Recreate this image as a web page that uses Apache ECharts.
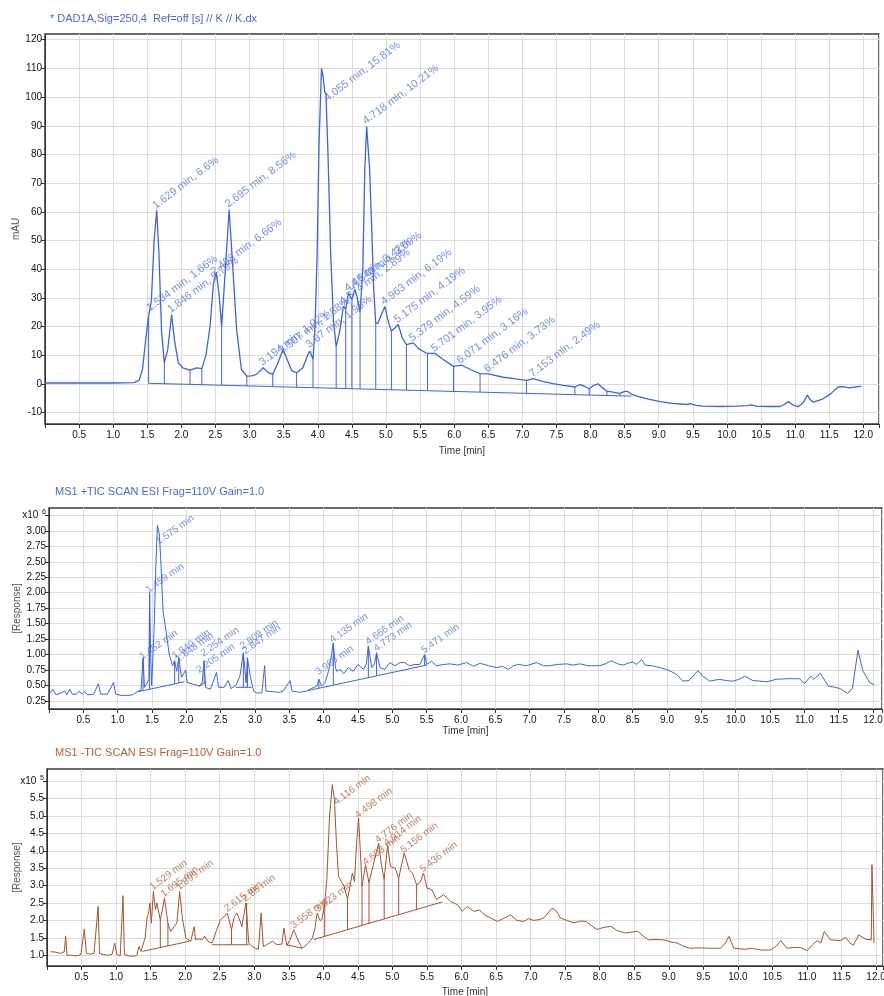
<!DOCTYPE html>
<html><head><meta charset="utf-8">
<script src="https://cdn.jsdelivr.net/npm/echarts@6/dist/echarts.min.js"></script>
<style>html,body{margin:0;padding:0;background:#fff}#c{width:884px;height:996px}</style>
</head><body><div id="c"></div>
<script>
// ---------- Panel 1: DAD1A 250 nm (mAU) ----------
const dadTrace = [
[0.00,0.3],[0.50,0.3],[1.00,0.3],[1.30,0.4],[1.38,1.2],[1.43,5],[1.47,14],[1.515,23],[1.56,29],[1.60,50],[1.638,60.5],[1.67,46],[1.71,18],[1.75,7.3],[1.80,12],[1.857,24.2],[1.90,15],[1.955,7.3],[2.02,5.6],[2.126,4.8],[2.22,5.6],[2.30,5.3],[2.36,10],[2.42,20],[2.47,35],[2.51,38.9],[2.55,32],[2.59,20],[2.64,38],[2.70,60.8],[2.74,46],[2.81,19],[2.88,5],[2.96,2.7],[3.03,2.8],[3.10,3.3],[3.20,5.6],[3.27,4.0],[3.34,3.3],[3.41,7],[3.49,12],[3.56,8],[3.62,4.5],[3.69,3.9],[3.78,5.5],[3.86,10.5],[3.886,11.4],[3.93,8.5],[3.96,20],[3.99,45],[4.02,85],[4.055,110],[4.08,107],[4.10,102],[4.12,101],[4.15,80],[4.19,45],[4.23,22],[4.27,13],[4.32,18],[4.375,27],[4.41,26],[4.45,31.7],[4.50,29.4],[4.545,32.9],[4.58,30],[4.62,24.8],[4.66,40],[4.69,75],[4.717,89.8],[4.735,90],[4.76,75],[4.79,55],[4.82,33],[4.85,21.3],[4.88,21],[4.93,24],[4.985,27],[5.03,22],[5.08,18.4],[5.13,19.5],[5.18,20.7],[5.24,16],[5.30,13.7],[5.40,14.3],[5.48,12.3],[5.60,10.6],[5.72,10.6],[5.85,8.3],[5.99,6.1],[6.11,6.5],[6.24,5.0],[6.38,3.6],[6.50,3.5],[6.72,2.3],[6.90,1.7],[7.06,1.2],[7.16,1.8],[7.30,0.9],[7.45,0.1],[7.60,-0.5],[7.77,-1.1],[7.85,-0.3],[7.92,-1.0],[7.98,-1.7],[8.05,-0.5],[8.11,0.0],[8.18,-1.5],[8.24,-2.5],[8.35,-3.0],[8.43,-3.3],[8.50,-2.6],[8.54,-2.6],[8.60,-3.6],[8.68,-4.3],[8.85,-5.3],[9.02,-6.2],[9.20,-6.8],[9.41,-7.2],[9.46,-6.9],[9.55,-7.5],[9.65,-7.8],[9.90,-7.9],[10.14,-7.8],[10.30,-7.6],[10.36,-7.3],[10.43,-7.8],[10.60,-7.9],[10.78,-7.9],[10.84,-7.2],[10.90,-6.2],[10.97,-7.4],[11.05,-7.9],[11.12,-6.5],[11.18,-3.9],[11.22,-5.5],[11.27,-6.4],[11.41,-5.2],[11.52,-3.5],[11.63,-1.1],[11.70,-1.0],[11.80,-1.4],[11.97,-0.8]
];
const dadBaselines = [[1.52,0.2,8.60,-4.3]];
const dadDrops = [
[1.52,23,0.2],[1.75,7.3,0.05],[2.126,4.8,-0.19],[2.30,5.3,-0.30],[2.59,20,-0.48],[2.96,2.7,-0.72],[3.34,3.3,-0.96],[3.69,3.9,-1.18],[3.93,8.5,-1.33],[4.27,13,-1.55],[4.41,26,-1.64],[4.50,29.4,-1.70],[4.62,24.8,-1.77],[4.85,21.3,-1.92],[5.08,18.4,-2.06],[5.30,13.7,-2.2],[5.61,10.6,-2.40],[5.99,6.1,-2.64],[6.38,3.6,-2.89],[7.06,1.2,-3.32],[7.77,-1.1,-3.77],[7.98,-1.7,-3.91],[8.24,-2.5,-4.07],[8.43,-3.3,-4.19]
];
const dadPeaks = [
[1.55,24.8,'1.534 min, 1.66%'],[1.638,60.5,'1.629 min, 6.6%'],[1.857,24.2,'1.846 min, 5.79%'],[2.49,37.5,'2.498 min, 6.66%'],[2.70,61,'2.695 min, 8.56%'],[3.20,5.8,'3.194 min, 1.02%'],[3.49,10,'3.507 min, 1.88%'],[3.886,12,'3.87 min, 1.96%'],[4.155,98,'4.055 min, 15.81%'],[4.375,27,'4.374 min, 2.89%'],[4.45,31.7,'4.46 min, 3.42%'],[4.545,33,'4.548 min, 3.09%'],[4.72,90,'4.718 min, 10.21%'],[4.985,27,'4.963 min, 6.19%'],[5.18,20.7,'5.175 min, 4.19%'],[5.40,14.3,'5.379 min, 4.59%'],[5.72,10.6,'5.701 min, 3.95%'],[6.10,6.5,'6.071 min, 3.16%'],[6.50,3.5,'6.476 min, 3.73%'],[7.16,1.8,'7.153 min, 2.49%']
];
const dadYTicks = [-10,0,10,20,30,40,50,60,70,80,90,100,110,120];

// ---------- Panel 2: MS1 +TIC (x10^6) ----------
const posTrace = [
[0.00,0.36],[0.06,0.44],[0.10,0.35],[0.16,0.37],[0.23,0.41],[0.26,0.35],[0.30,0.44],[0.34,0.36],[0.40,0.36],[0.44,0.41],[0.48,0.36],[0.52,0.40],[0.56,0.35],[0.65,0.36],[0.72,0.53],[0.75,0.36],[0.85,0.36],[0.94,0.55],[0.97,0.36],[1.05,0.34],[1.15,0.34],[1.22,0.35],[1.30,0.41],[1.34,0.42],[1.37,0.95],[1.39,0.47],[1.42,0.52],[1.455,0.6],[1.465,2.0],[1.48,1.0],[1.495,0.5],[1.53,1.4],[1.555,2.4],[1.578,3.09],[1.605,2.95],[1.625,2.6],[1.66,1.71],[1.69,1.49],[1.75,1.01],[1.80,0.82],[1.83,0.9],[1.86,0.73],[1.89,0.95],[1.93,0.63],[1.99,0.75],[2.01,0.55],[2.10,0.52],[2.20,0.49],[2.23,0.55],[2.26,0.9],[2.28,0.47],[2.35,0.44],[2.44,0.71],[2.47,0.47],[2.55,0.47],[2.61,0.58],[2.65,0.45],[2.72,0.5],[2.78,0.65],[2.83,1.03],[2.87,0.54],[2.89,0.95],[2.93,0.65],[2.98,0.41],[3.02,0.38],[3.10,0.38],[3.14,0.82],[3.16,0.41],[3.25,0.40],[3.35,0.39],[3.41,0.41],[3.51,0.58],[3.54,0.41],[3.65,0.39],[3.75,0.41],[3.82,0.45],[3.90,0.49],[3.93,0.60],[3.97,0.49],[4.02,0.55],[4.07,0.73],[4.10,0.9],[4.14,1.19],[4.17,0.8],[4.19,0.73],[4.24,0.76],[4.29,0.69],[4.36,0.79],[4.43,0.73],[4.50,0.84],[4.58,0.76],[4.62,0.85],[4.65,1.14],[4.70,0.79],[4.74,0.85],[4.77,1.03],[4.82,0.79],[4.89,0.76],[4.96,0.87],[5.04,0.82],[5.11,0.87],[5.18,0.87],[5.25,0.82],[5.33,0.84],[5.40,0.84],[5.47,1.0],[5.50,0.84],[5.57,0.89],[5.64,0.82],[5.75,0.84],[5.84,0.85],[5.95,0.83],[6.08,0.87],[6.18,0.81],[6.28,0.86],[6.40,0.82],[6.52,0.79],[6.60,0.81],[6.69,0.76],[6.76,0.82],[6.84,0.84],[6.95,0.82],[7.10,0.87],[7.20,0.82],[7.29,0.82],[7.40,0.84],[7.54,0.85],[7.63,0.83],[7.73,0.85],[7.85,0.82],[8.02,0.82],[8.10,0.85],[8.19,0.9],[8.28,0.85],[8.36,0.83],[8.43,0.86],[8.50,0.88],[8.56,0.84],[8.63,0.92],[8.68,0.83],[8.78,0.82],[8.85,0.80],[8.99,0.76],[9.07,0.72],[9.14,0.68],[9.23,0.57],[9.32,0.58],[9.45,0.74],[9.52,0.65],[9.62,0.57],[9.76,0.60],[9.86,0.58],[9.96,0.57],[10.05,0.60],[10.13,0.65],[10.25,0.58],[10.35,0.57],[10.45,0.56],[10.59,0.60],[10.75,0.61],[10.93,0.61],[11.00,0.53],[11.09,0.65],[11.14,0.6],[11.23,0.70],[11.35,0.49],[11.45,0.47],[11.52,0.45],[11.63,0.37],[11.70,0.46],[11.78,1.07],[11.85,0.74],[11.95,0.55],[12.02,0.51]
];
const posBaselines = [[1.30,0.40,1.97,0.56],[2.18,0.49,2.28,0.55],[2.72,0.47,2.95,0.47],[3.78,0.42,5.50,0.83]];
const posDrops = [
[1.37,0.95,0.42],[1.465,2.0,0.44],[1.83,0.9,0.53],[1.89,0.95,0.54],[2.26,0.9,0.54],[2.83,1.03,0.47],[2.89,0.95,0.47],[3.93,0.6,0.46],[4.14,1.19,0.51],[4.65,1.14,0.63],[4.77,1.03,0.66],[5.47,1.0,0.82]
];
const posPeaks = [
[1.37,0.90,'1.452 min'],[1.46,1.98,'1.459 min'],[1.61,2.76,'1.575 min'],[1.84,0.91,'1.840 min'],[1.89,0.86,'1.848 min'],[2.26,0.95,'2.254 min'],[2.20,0.68,'2.205 min'],[2.83,1.07,'2.809 min'],[2.87,0.99,'2.847 min'],[3.93,0.65,'3.966 min'],[4.14,1.17,'4.135 min'],[4.66,1.14,'4.666 min'],[4.78,1.03,'4.773 min'],[5.47,1.0,'5.471 min']
];
const posYTicks = [0.25,0.5,0.75,1.0,1.25,1.5,1.75,2.0,2.25,2.5,2.75,3.0,3.25];

// ---------- Panel 3: MS1 -TIC (x10^5) ----------
const negTrace = [
[0.05,1.10],[0.12,1.09],[0.19,1.05],[0.25,1.1],[0.27,1.54],[0.29,0.99],[0.35,1.0],[0.42,0.98],[0.49,1.02],[0.54,1.75],[0.57,1.06],[0.62,1.03],[0.68,1.05],[0.74,2.40],[0.76,1.05],[0.82,1.02],[0.88,1.0],[0.94,1.02],[0.98,1.35],[1.01,1.02],[1.06,0.99],[1.10,2.71],[1.12,1.02],[1.18,0.98],[1.26,0.97],[1.30,1.0],[1.33,1.25],[1.36,1.11],[1.38,1.11],[1.42,1.5],[1.45,2.11],[1.47,2.2],[1.49,2.50],[1.51,1.92],[1.54,2.83],[1.57,2.31],[1.59,2.50],[1.64,2.02],[1.67,2.3],[1.70,2.64],[1.75,1.92],[1.79,1.68],[1.84,1.82],[1.88,1.92],[1.92,2.83],[1.96,2.06],[2.01,1.49],[2.08,1.40],[2.13,1.82],[2.15,1.45],[2.21,1.47],[2.25,1.45],[2.28,1.55],[2.30,1.49],[2.34,1.38],[2.39,1.35],[2.45,1.7],[2.51,2.02],[2.56,2.1],[2.61,2.21],[2.67,1.73],[2.71,2.1],[2.75,2.21],[2.80,1.95],[2.82,1.82],[2.88,2.50],[2.92,1.35],[2.97,1.25],[3.02,1.20],[3.06,1.17],[3.10,2.21],[3.13,1.25],[3.18,1.3],[3.26,1.40],[3.33,1.30],[3.40,1.32],[3.43,1.78],[3.47,1.28],[3.52,1.45],[3.57,1.73],[3.62,1.5],[3.69,1.20],[3.76,1.3],[3.84,1.49],[3.88,1.8],[3.91,2.21],[3.95,2.0],[3.98,2.02],[4.02,2.5],[4.05,3.17],[4.09,5.0],[4.13,5.90],[4.16,5.47],[4.19,4.2],[4.22,3.26],[4.30,2.98],[4.35,2.60],[4.42,3.36],[4.45,3.12],[4.48,4.2],[4.51,4.94],[4.535,4.0],[4.56,2.98],[4.61,3.60],[4.66,3.08],[4.73,3.65],[4.80,4.22],[4.84,3.6],[4.88,3.17],[4.93,4.17],[4.97,3.55],[5.04,3.50],[5.09,3.21],[5.17,3.94],[5.24,3.46],[5.29,3.36],[5.35,3.02],[5.40,3.09],[5.45,3.36],[5.50,2.93],[5.57,2.88],[5.64,2.60],[5.74,2.74],[5.84,2.55],[5.94,2.45],[6.01,2.26],[6.08,2.40],[6.18,2.26],[6.26,2.30],[6.34,2.15],[6.42,2.07],[6.52,1.97],[6.60,2.05],[6.71,2.16],[6.80,2.0],[6.90,1.97],[6.97,2.05],[7.04,2.0],[7.12,2.02],[7.19,2.07],[7.31,2.35],[7.37,2.28],[7.43,2.07],[7.52,2.0],[7.63,1.93],[7.72,1.98],[7.80,1.97],[7.88,1.85],[7.96,1.74],[8.06,1.80],[8.16,1.83],[8.26,1.70],[8.36,1.64],[8.45,1.66],[8.55,1.69],[8.63,1.55],[8.71,1.44],[8.80,1.45],[8.93,1.44],[9.03,1.38],[9.12,1.35],[9.22,1.25],[9.31,1.20],[9.45,1.21],[9.60,1.20],[9.75,1.20],[9.82,1.35],[9.87,1.54],[9.94,1.20],[10.10,1.17],[10.20,1.20],[10.33,1.15],[10.47,1.15],[10.55,1.25],[10.62,1.42],[10.71,1.20],[10.80,1.22],[10.91,1.22],[11.00,1.13],[11.08,1.3],[11.15,1.42],[11.20,1.35],[11.25,1.68],[11.34,1.44],[11.48,1.42],[11.56,1.51],[11.62,1.35],[11.67,1.29],[11.75,1.58],[11.85,1.46],[11.93,1.44],[11.94,3.60],[11.97,1.35]
];
const negBaselines = [[1.38,1.11,2.06,1.40],[2.39,1.30,2.92,1.30],[3.47,1.30,3.69,1.20],[3.86,1.45,5.72,2.53]];
const negDrops = [
[1.64,2.02,1.22],[1.75,1.92,1.27],[2.67,1.73,1.30],[2.89,2.5,1.30],[4.02,2.5,1.54],[4.35,2.60,1.73],[4.56,2.98,1.86],[4.66,3.08,1.91],[4.88,3.17,2.04],[5.09,3.21,2.16],[5.35,3.02,2.32]
];
const negPeaks = [
[1.54,2.83,'1.529 min'],[1.70,2.64,'1.695 min'],[1.92,2.83,'1.899 min'],[2.62,2.21,'2.615 min'],[2.88,2.5,'2.86 min'],[3.58,1.73,'3.558 min'],[3.93,2.2,'3.923 min'],[4.20,5.28,'4.116 min'],[4.51,4.9,'4.498 min'],[4.62,3.55,'4.603 min'],[4.80,4.19,'4.776 min'],[4.93,4.1,'4.914 min'],[5.17,3.90,'5.156 min'],[5.45,3.35,'5.436 min']
];
const negYTicks = [1.0,1.5,2.0,2.5,3.0,3.5,4.0,4.5,5.0,5.5,6.0];

// ---------- titles ----------
const titles = ['* DAD1A,Sig=250,4  Ref=off [s] // K // K.dx','MS1 +TIC SCAN ESI Frag=110V Gain=1.0','MS1 -TIC SCAN ESI Frag=110V Gain=1.0'];

const FONT = 'Liberation Sans, Arial, sans-serif';
const TICKFONT = 'Liberation Sans Narrow, Arial Narrow, Liberation Sans, Arial, sans-serif';
const BLUE = '#3f63dc', BLUE_L = '#5273de', BROWN = '#a4532e', BROWN_L = '#ab5f3d';

const grids = [
  {left:45, top:34, width:834, height:390},
  {left:49, top:508, width:833, height:201},
  {left:47, top:769, width:836, height:197}
].map(g => Object.assign(g, {show:true, containLabel:false, outerBoundsMode:'none',
  borderColor:'#3a3a3a', borderWidth:1.5, backgroundColor:'transparent'}));

function xAx(i, max, gap){
  return {type:'value', gridIndex:i, min:0, max:max, interval:0.5,
    name:'Time [min]', nameLocation:'middle', nameGap:gap,
    nameTextStyle:{fontSize:10, color:'#333', fontFamily:TICKFONT},
    axisLine:{show:true, onZero:false, lineStyle:{color:'#333', width:1}},
    axisTick:{show:true, inside:false, length:4, lineStyle:{color:'#333'}},
    axisLabel:{fontSize:10, color:'#111', margin:6, fontFamily:TICKFONT,
      formatter: v => (v > 0.01 && Math.abs(v*2 - Math.round(v*2)) < 1e-6) ? v.toFixed(1) : ''},
    splitLine:{show:true, lineStyle:{color:'#dcdcdc', width:1}}
  };
}
function yAx(i, min, max, ticks, name, gap, fmt){
  return {type:'value', gridIndex:i, min:min, max:max,
    name:name, nameLocation:'middle', nameGap:gap, nameRotate:90, nameMoveOverlap:false,
    nameTextStyle:{fontSize:10, color:'#555', fontFamily:TICKFONT},
    axisLine:{show:true, onZero:false, lineStyle:{color:'#333', width:1}},
    axisTick:{show:true, inside:false, length:4, lineStyle:{color:'#333'}, customValues:ticks},
    axisLabel:{fontSize:10, color:'#111', margin:3, fontFamily:TICKFONT, customValues:ticks, formatter:fmt,
      rich:{a:{fontSize:10, color:'#111', fontFamily:TICKFONT}, s:{fontSize:7, color:'#111', fontFamily:TICKFONT, padding:[0,0,7,1]}}},
    splitLine:{show:true, lineStyle:{color:'#dcdcdc', width:1}}
  };
}

function traceSeries(i, data, color, w){
  return {type:'line', xAxisIndex:i, yAxisIndex:i, data:data, showSymbol:false, symbol:'none',
    lineStyle:{color:color, width:w}, z:4, silent:true, animation:false};
}
function baseSeries(i, data, color){
  return {type:'custom', xAxisIndex:i, yAxisIndex:i, data:data, silent:true, z:3, animation:false,
    encode:{x:[0,2], y:[1,3]},
    renderItem:(p, api) => {
      const a = api.coord([api.value(0), api.value(1)]);
      const b = api.coord([api.value(2), api.value(3)]);
      return {type:'line', shape:{x1:a[0], y1:a[1], x2:b[0], y2:b[1]}, style:{stroke:color, lineWidth:1}};
    }};
}
function dropSeries(i, data, color){
  return {type:'custom', xAxisIndex:i, yAxisIndex:i, data:data, silent:true, z:3, animation:false,
    encode:{x:0, y:[1,2]},
    renderItem:(p, api) => {
      const a = api.coord([api.value(0), api.value(1)]);
      const b = api.coord([api.value(0), api.value(2)]);
      return {type:'line', shape:{x1:a[0], y1:a[1], x2:b[0], y2:b[1]}, style:{stroke:color, lineWidth:1}};
    }};
}
function labelSeries(i, data, color, size, rot){
  return {type:'scatter', xAxisIndex:i, yAxisIndex:i, symbolSize:1, silent:true, z:6, animation:false,
    itemStyle:{color:'rgba(0,0,0,0)'},
    data:data.map(d => ({value:[d[0], d[1]], name:d[2]})),
    label:{show:true, formatter:'{b}', position:'inside', align:'left', verticalAlign:'bottom',
      rotate:rot, color:color, fontSize:size, fontFamily:FONT, offset:[0,1]}};
}

const option = {
  animation:false,
  backgroundColor:'#ffffff',
  title:[
    {text:titles[0], left:50, top:13, padding:0, textStyle:{fontSize:11, color:'#4a68d8', fontWeight:'normal', fontFamily:FONT}},
    {text:titles[1], left:55, top:486, padding:0, textStyle:{fontSize:11, color:'#4a68d8', fontWeight:'normal', fontFamily:FONT}},
    {text:titles[2], left:55, top:747, padding:0, textStyle:{fontSize:11, color:'#b0603a', fontWeight:'normal', fontFamily:FONT}}
  ],
  grid:grids,
  xAxis:[xAx(0, 12.23, 22), xAx(1, 12.13, 16), xAx(2, 12.1, 21)],
  yAxis:[
    yAx(0, -14, 122, dadYTicks, 'mAU', 24, v => String(Math.round(v))),
    yAx(1, 0.12, 3.37, posYTicks, '[Response]', 27, v => Math.abs(v-3.25)<1e-6 ? '{a|x10} {s|6}' : v.toFixed(2)),
    yAx(2, 0.69, 6.35, negYTicks, '[Response]', 25, v => Math.abs(v-6.0)<1e-6 ? '{a|x10} {s|5}' : v.toFixed(1))
  ],
  series:[
    baseSeries(0, dadBaselines, BLUE), dropSeries(0, dadDrops, BLUE), traceSeries(0, dadTrace, BLUE, 1.3), labelSeries(0, dadPeaks, BLUE_L, 11, 37),
    baseSeries(1, posBaselines, BLUE), dropSeries(1, posDrops, BLUE), traceSeries(1, posTrace, BLUE, 1), labelSeries(1, posPeaks, BLUE_L, 10, 35),
    baseSeries(2, negBaselines, BROWN), dropSeries(2, negDrops, BROWN), traceSeries(2, negTrace, BROWN, 1), labelSeries(2, negPeaks, BROWN_L, 10, 37)
  ]
};
const chart = echarts.init(document.getElementById('c'));
chart.setOption(option);
</script></body></html>
